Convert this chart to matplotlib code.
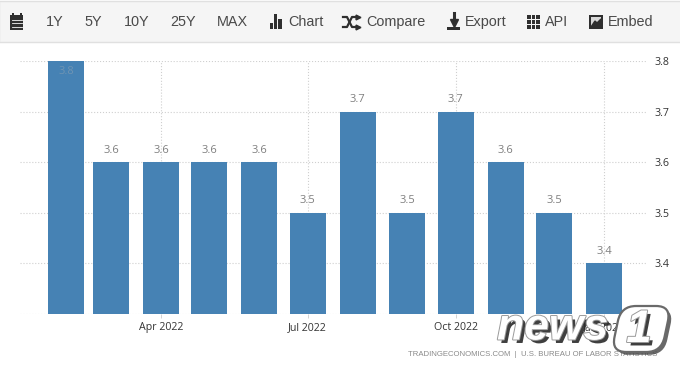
import datetime as dt
import matplotlib
matplotlib.use("Agg")
import matplotlib.pyplot as plt
import matplotlib.dates as mdates
import matplotlib.patheffects as pe
from matplotlib.patches import Rectangle, FancyBboxPatch
from matplotlib.transforms import Affine2D

W, H = 680, 366

months = ["2022-02", "2022-03", "2022-04", "2022-05", "2022-06", "2022-07",
          "2022-08", "2022-09", "2022-10", "2022-11", "2022-12", "2023-01"]
values = [3.8, 3.6, 3.6, 3.6, 3.6, 3.5, 3.7, 3.5, 3.7, 3.6, 3.5, 3.4]
tick_months = ["2022-04", "2022-07", "2022-10", "2023-01"]
tick_labels = ["Apr 2022", "Jul 2022", "Oct 2022", "Jan 2023"]
y_ticks = [3.4, 3.5, 3.6, 3.7, 3.8]
menu_ranges = ["1Y", "5Y", "10Y", "25Y", "MAX"]
menu_tools = ["Chart", "Compare", "Export", "API", "Embed"]
source = "TRADINGECONOMICS.COM  |  U.S. BUREAU OF LABOR STATISTICS"

BLUE = "#4682b4"
FONT = ["Open Sans", "DejaVu Sans"]
MENU_FONT = ["Liberation Sans", "DejaVu Sans"]


def to_date(s):
    return mdates.date2num(dt.datetime.strptime(s + "-01", "%Y-%m-%d"))


fig = plt.figure(figsize=(W / 100, H / 100), dpi=100, facecolor="white")
plt.rcParams["font.family"] = FONT

# chart, axes box runs over pixels x 20-646, y 61-314
ax = fig.add_axes([20 / W, 1 - 314 / H, 626 / W, 253 / H])
px_per_day = (604 - 161) / (to_date("2023-01") - to_date("2022-04"))
x0 = to_date("2022-04") - (161 - 20) / px_per_day
x1 = to_date("2022-04") + (646 - 161) / px_per_day
ax.set_xlim(x0, x1)
ax.set_ylim(3.3, 3.8)

xs = [to_date(m) for m in months]
ax.bar(xs, [v - 3.3 for v in values], bottom=3.3, width=36 / px_per_day,
       color=BLUE, zorder=3, clip_on=False)

for x, v in zip(xs, values):
    if v >= 3.8:
        ax.annotate(f"{v}", (x, v), xytext=(0, -11), textcoords="offset pixels",
                    ha="center", va="center", fontsize=8, color="#6f94b3", zorder=4)
    else:
        ax.annotate(f"{v}", (x, v), xytext=(0, 12), textcoords="offset pixels",
                    ha="center", va="center", fontsize=8, color="#7f7f7f", zorder=4)

ax.set_yticks(y_ticks + [3.3])
ax.set_yticklabels([f"{v}" for v in y_ticks] + [""])
ax.yaxis.tick_right()
ax.set_xticks([to_date(m) for m in tick_months])
ax.set_xticklabels(tick_labels)
ax.tick_params(axis="y", length=0, pad=6, labelsize=7.7, labelcolor="#333333")
ax.tick_params(axis="x", length=3, width=0.6, color="#cccccc", pad=3,
               labelsize=7.7, labelcolor="#333333")
ax.grid(True, color="#cfcfcf", linestyle=":", linewidth=0.8, zorder=0)
for s in ax.spines.values():
    s.set_visible(False)

# page furniture drawn in pixel coordinates
ov = fig.add_axes([0, 0, 1, 1], facecolor="none")
ov.set_xlim(0, W)
ov.set_ylim(H, 0)
ov.axis("off")

ov.add_patch(Rectangle((-1, 1), W + 2, 41, facecolor="#f5f5f5", edgecolor="#e0e0e0", linewidth=1))

menu_color = "#4a4a4a"
for label, x in zip(menu_ranges, [46, 84, 124, 170, 217]):
    ov.text(x, 22, label, ha="left", va="center", fontsize=10.4, color=menu_color,
            family=MENU_FONT)
for label, x in zip(menu_tools, [288, 366, 465, 545, 608]):
    ov.text(x, 22, label, ha="left", va="center", fontsize=10.4, color=menu_color,
            family=MENU_FONT)

ICON = "#2f2f2f"
# calendar
ov.add_patch(Rectangle((10, 15), 13, 15, facecolor=ICON, edgecolor="none"))
for bx in (12, 20):
    ov.add_patch(Rectangle((bx, 13), 1.6, 3, facecolor=ICON))
for yy in (19.5, 23, 26.5):
    ov.plot([11.5, 21.5], [yy, yy], color="#f5f5f5", lw=0.6)
# chart
for bx, top in zip((270, 274.2, 278.4), (23, 14, 19)):
    ov.add_patch(Rectangle((bx, top), 3.2, 29 - top, facecolor=ICON))
# compare (crossed arrows)
ov.plot([343, 347, 352, 357], [17, 17, 27, 27], color=ICON, lw=1.6)
ov.plot([343, 347, 352, 357], [27, 27, 17, 17], color=ICON, lw=1.6)
ov.plot([358], [17], marker=">", ms=3.5, color=ICON)
ov.plot([358], [27], marker=">", ms=3.5, color=ICON)
# export
ov.plot([453.5, 453.5], [13, 22], color=ICON, lw=2.2)
ov.plot([453.5], [23], marker="v", ms=5.5, color=ICON)
ov.add_patch(Rectangle((447, 26.5), 13, 3, facecolor=ICON))
# API grid
for gx in (527, 531.5, 536):
    for gy in (15, 20, 25):
        ov.add_patch(Rectangle((gx, gy), 3.5, 3.8, facecolor=ICON))
# embed
ov.add_patch(Rectangle((589, 15), 14, 14, facecolor=ICON))
ov.add_patch(Rectangle((591, 17), 10, 10, facecolor="#d8d8d8"))
ov.fill([591, 595, 597, 601, 601, 591], [27, 21, 23, 19, 27, 27], color=ICON)

ov.text(657, 354, source, ha="right", va="center", fontsize=5.6, color="#8a8a8a",
        family=MENU_FONT)

# news1 watermark
letter_fx = [pe.SimplePatchShadow(offset=(2.5, -2.5), shadow_rgbFace="#2a2a2a", alpha=0.9),
             pe.Stroke(linewidth=1.4, foreground="#9a9a9a"), pe.Normal()]
ov.text(497, 328, "news", ha="left", va="center", fontsize=32, style="italic",
        weight="bold", color="white", path_effects=letter_fx, zorder=5,
        family=MENU_FONT)
tilt = (Affine2D().translate(0, -330).skew_deg(-12, 0).translate(0, 330) + ov.transData)
ov.add_patch(FancyBboxPatch((616, 306), 50, 46, boxstyle="round,pad=0,rounding_size=15",
                            facecolor="white", edgecolor="#6a6a6a", linewidth=1.6,
                            zorder=5, transform=tilt,
                            path_effects=[pe.SimplePatchShadow(offset=(2, -2), shadow_rgbFace="#444444", alpha=0.8), pe.Normal()]))
ov.text(639, 330, "1", ha="center", va="center", fontsize=33, style="italic",
        weight="bold", color="white", path_effects=letter_fx, zorder=6,
        family=MENU_FONT)

fig.savefig("out.png", dpi=100)
